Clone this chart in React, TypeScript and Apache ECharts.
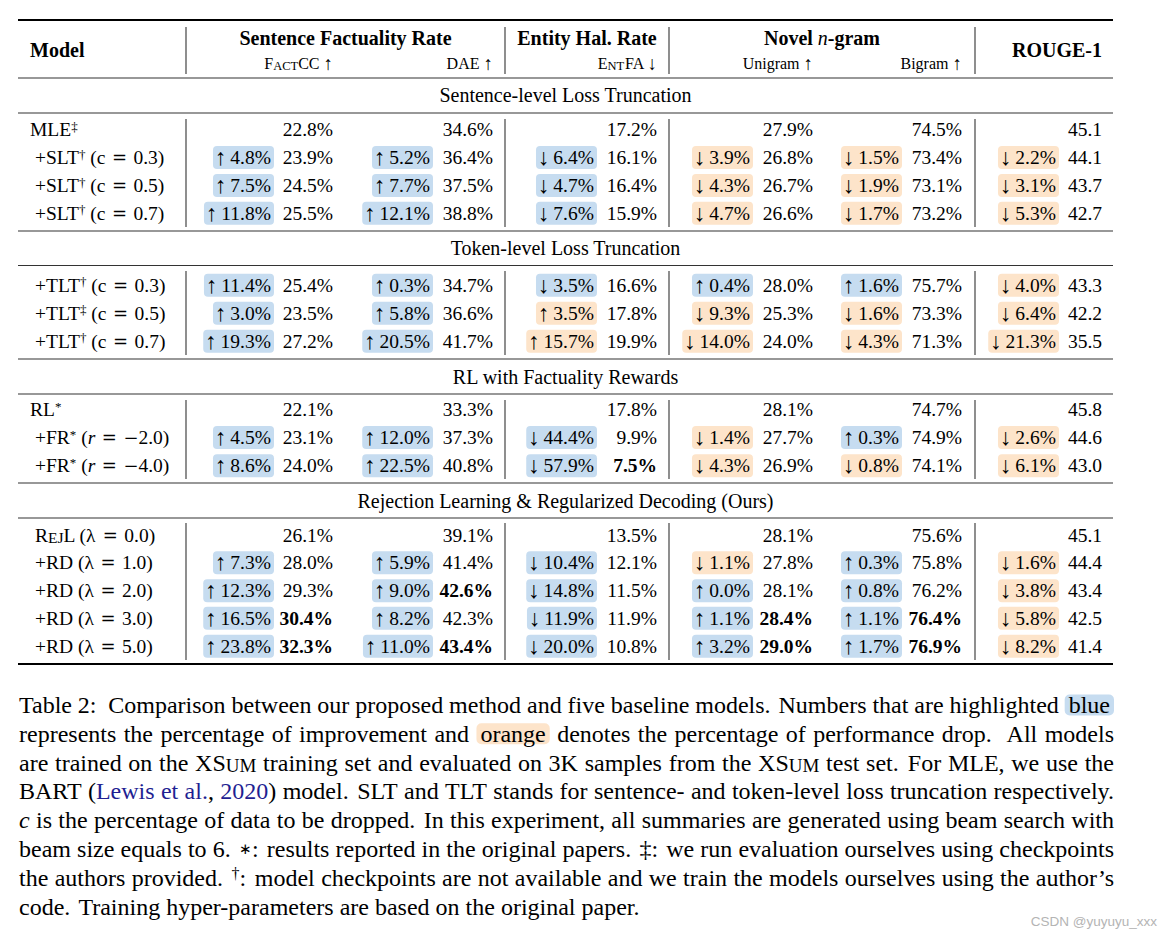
import React, { useEffect, useRef } from 'react';
import * as echarts from 'echarts';

const W = 1173;
const H = 939;
const FONT = '"Liberation Serif", "Times New Roman", Times, serif';
const MATH_FONT = '"DejaVu Serif", "Liberation Serif", serif';
const BLUE = '#c6dcf0';
const ORANGE = '#fde4ca';

// ---------------- data ----------------
const sectionTitles = [
  'Sentence-level Loss Truncation',
  'Token-level Loss Truncation',
  'RL with Factuality Rewards',
  'Rejection Learning & Regularized Decoding (Ours)',
];

const modelNames = ['MLE', '+SLT', '+SLT', '+SLT', '+TLT', '+TLT', '+TLT', 'RL', '+FR', '+FR', 'RejL', '+RD', '+RD', '+RD', '+RD'];
const modelMarks = ['‡', '†', '†', '†', '†', '‡', '†', '*', '*', '*', '', '', '', '', ''];
const modelParams = ['', 'c = 0.3', 'c = 0.5', 'c = 0.7', 'c = 0.3', 'c = 0.5', 'c = 0.7', '', 'r = −2.0', 'r = −4.0', 'λ = 0.0', 'λ = 1.0', 'λ = 2.0', 'λ = 3.0', 'λ = 5.0'];

const groupHeaders = ['Sentence Factuality Rate', 'Entity Hal. Rate', 'Novel {it|n}-gram'];
const metricHeaders = ['F{sc|ACT}CC {ar|↑}', 'DAE {ar|↑}', 'E{sc|NT}FA {ar|↓}', 'Unigram {ar|↑}', 'Bigram {ar|↑}'];
const lastHeader = 'ROUGE-1';
const higherIsBetter = [true, true, false, true, true, true];

const factccValue = [22.8, 23.9, 24.5, 25.5, 25.4, 23.5, 27.2, 22.1, 23.1, 24.0, 26.1, 28.0, 29.3, 30.4, 32.3];
const factccDelta = [null, 4.8, 7.5, 11.8, 11.4, 3.0, 19.3, null, 4.5, 8.6, null, 7.3, 12.3, 16.5, 23.8];
const daeValue = [34.6, 36.4, 37.5, 38.8, 34.7, 36.6, 41.7, 33.3, 37.3, 40.8, 39.1, 41.4, 42.6, 42.3, 43.4];
const daeDelta = [null, 5.2, 7.7, 12.1, 0.3, 5.8, 20.5, null, 12.0, 22.5, null, 5.9, 9.0, 8.2, 11.0];
const entfaValue = [17.2, 16.1, 16.4, 15.9, 16.6, 17.8, 19.9, 17.8, 9.9, 7.5, 13.5, 12.1, 11.5, 11.9, 10.8];
const entfaDelta = [null, -6.4, -4.7, -7.6, -3.5, 3.5, 15.7, null, -44.4, -57.9, null, -10.4, -14.8, -11.9, -20.0];
const unigramValue = [27.9, 26.8, 26.7, 26.6, 28.0, 25.3, 24.0, 28.1, 27.7, 26.9, 28.1, 27.8, 28.1, 28.4, 29.0];
const unigramDelta = [null, -3.9, -4.3, -4.7, 0.4, -9.3, -14.0, null, -1.4, -4.3, null, -1.1, 0.0, 1.1, 3.2];
const bigramValue = [74.5, 73.4, 73.1, 73.2, 75.7, 73.3, 71.3, 74.7, 74.9, 74.1, 75.6, 75.8, 76.2, 76.4, 76.9];
const bigramDelta = [null, -1.5, -1.9, -1.7, 1.6, -1.6, -4.3, null, 0.3, -0.8, null, 0.3, 0.8, 1.1, 1.7];
const rougeValue = [45.1, 44.1, 43.7, 42.7, 43.3, 42.2, 35.5, 45.8, 44.6, 43.0, 45.1, 44.4, 43.4, 42.5, 41.4];
const rougeDelta = [null, -2.2, -3.1, -5.3, -4.0, -6.4, -21.3, null, -2.6, -6.1, null, -1.6, -3.8, -5.8, -8.2];

// [metric, row] of bold (best) values
const bestCells = [[2, 9], [1, 12], [0, 13], [3, 13], [4, 13], [0, 14], [1, 14], [3, 14], [4, 14]];

const captionLines = [
  'Table 2:  Comparison between our proposed method and five baseline models. Numbers that are highlighted {hb|blue}',
  'represents the percentage of improvement and {ho|orange} denotes the percentage of performance drop.  All models',
  'are trained on the XS{sc|UM} training set and evaluated on 3K samples from the XS{sc|UM} test set. For MLE, we use the',
  'BART ({link|Lewis} {link|et} {link|al.}, {link|2020}) model. SLT and TLT stands for sentence- and token-level loss truncation respectively.',
  '{it|c} is the percentage of data to be dropped. In this experiment, all summaries are generated using beam search with',
  'beam size equals to 6. {ast|∗}: results reported in the original papers. ‡: we run evaluation ourselves using checkpoints',
  'the authors provided. {sup|†}: model checkpoints are not available and we train the models ourselves using the author’s',
  'code. Training hyper-parameters are based on the original paper.',
];
const watermark = 'CSDN @yuyuyu_xxx';

const metricValues = [factccValue, daeValue, entfaValue, unigramValue, bigramValue, rougeValue];
const metricDeltas = [factccDelta, daeDelta, entfaDelta, unigramDelta, bigramDelta, rougeDelta];

// ---------------- layout ----------------
const TABLE_L = 18;
const TABLE_R = 1113;
const ROW_Y = [129.7, 157.5, 185.5, 213.3, 285.3, 313.3, 341.3, 409.6, 437.5, 465.8, 535, 562.8, 590.8, 618.3, 646.2];
const SECTION_Y = [95, 248.3, 376.7, 500.7];
const VALUE_RIGHT = [333, 493, 657, 813, 962, 1102];
const DELTA_RIGHT = [274, 433, 597, 753, 902, 1059];
const MODEL_X = [30, 35, 35, 35, 35, 35, 35, 30, 35, 35, 35, 35, 35, 35, 35];
const VLINES_X = [186, 505, 669, 975];
const VSEGS = [[27, 74], [119, 227], [271, 355], [400, 479], [523, 660]];
const THIN_RULES = [78, 113, 231, 265.5, 359, 394, 483, 518];
const THICK_RULES = [20, 664];
const GROUP_CX = [345.5, 587, 822];
const CELL_FS = 19.5;
const CAP_FS = 24;
const CAP_L = 19;
const CAP_R = 1114;
const CAP_Y0 = 705;
const CAP_DY = 28.8;

const labelRich: any = {
  sup: { fontSize: 13, fontFamily: FONT, fill: '#000', verticalAlign: 'top' },
  sc: { fontSize: 15.5, fontFamily: FONT, fill: '#000', verticalAlign: 'bottom' },
  it: { fontSize: CELL_FS, fontFamily: FONT, fontStyle: 'italic', fill: '#000' },
  m: { fontSize: 18, fontFamily: MATH_FONT, fill: '#000' },
};

const deltaRich: any = {
  ar: { fontSize: 23, fontFamily: FONT, fill: '#000' },
};

const captionRich: any = {
  sc: { fontSize: 19, fontFamily: FONT, fill: '#000', verticalAlign: 'bottom' },
  link: { fontSize: CAP_FS, fontFamily: FONT, fill: '#1f1f92' },
  it: { fontSize: CAP_FS, fontFamily: FONT, fontStyle: 'italic', fill: '#000' },
  sup: { fontSize: 16, fontFamily: FONT, fill: '#000', verticalAlign: 'top' },
  ast: { fontSize: 15, fontFamily: FONT, fill: '#000' },
  hb: { fontSize: CAP_FS, fontFamily: FONT, fill: '#000', backgroundColor: BLUE, padding: [1, 4, 1, 4], borderRadius: 5, height: 19 },
  ho: { fontSize: CAP_FS, fontFamily: FONT, fill: '#000', backgroundColor: ORANGE, padding: [1, 4, 1, 4], borderRadius: 5, height: 19 },
};

function modelLabel(r: number): string {
  let t = modelNames[r] === 'RejL' ? 'R{sc|EJ}L' : modelNames[r];
  if (modelMarks[r]) t += `{sup|${modelMarks[r]}}`;
  const p = modelParams[r];
  if (p) {
    const first = p[0] === 'r' ? '{it|r}' : p[0];
    const rest = p.slice(1).replace(' = ', '\u2004{m|=}\u2004').replace('−', '{m|−}');
    t += ' (' + first + rest + ')';
  }
  return t;
}

let measureCtx: CanvasRenderingContext2D | null = null;
function measure(text: string, size: number, italic = false): number {
  if (!measureCtx) measureCtx = document.createElement('canvas').getContext('2d');
  const ctx = measureCtx!;
  ctx.font = `${italic ? 'italic ' : ''}${size}px ${FONT}`;
  return ctx.measureText(text).width;
}

function wordWidth(word: string): number {
  const re = /\{(\w+)\|([^}]*)\}/g;
  let last = 0;
  let w = 0;
  let m: RegExpExecArray | null;
  while ((m = re.exec(word))) {
    if (m.index > last) w += measure(word.slice(last, m.index), CAP_FS);
    const st = m[1];
    const tx = m[2];
    if (st === 'sc') w += measure(tx, 19);
    else if (st === 'sup') w += measure(tx, 16);
    else if (st === 'ast') w += measure(tx, 15);
    else if (st === 'it') w += measure(tx, CAP_FS, true);
    else if (st === 'hb' || st === 'ho') w += measure(tx, CAP_FS) + 8;
    else w += measure(tx, CAP_FS);
    last = re.lastIndex;
  }
  if (last < word.length) w += measure(word.slice(last), CAP_FS);
  return w;
}

function captionElements(): any[] {
  const out: any[] = [];
  const spaceW = measure(' ', CAP_FS);
  captionLines.forEach((line, i) => {
    const parts = line.split(' ');
    const words: string[] = [];
    const gaps: number[] = [];
    let pending = 0;
    parts.forEach((p) => {
      if (p === '') { pending += 1; return; }
      if (words.length > 0) {
        const prev = words[words.length - 1];
        let g = 1 + pending;
        if (pending === 0 && /[.:]$/.test(prev) && prev !== '{link|al.}') g = 1.35;
        gaps.push(g);
      }
      pending = 0;
      words.push(p);
    });
    const widths = words.map(wordWidth);
    const total = widths.reduce((a, b) => a + b, 0);
    const gw = gaps.reduce((a, b) => a + b, 0);
    const justify = i < captionLines.length - 1;
    const unit = justify ? (CAP_R - CAP_L - total) / gw : spaceW;
    let x = CAP_L;
    const y = CAP_Y0 + i * CAP_DY;
    words.forEach((w, k) => {
      out.push({
        type: 'text', x, y, silent: true,
        style: { text: w, rich: captionRich, fontSize: CAP_FS, fontFamily: FONT, fill: '#000', align: 'left', verticalAlign: 'middle' },
      });
      x += widths[k] + (k < gaps.length ? gaps[k] * unit : 0);
    });
  });
  return out;
}

function tableGraphics(): any[] {
  const g: any[] = [];
  THICK_RULES.forEach((y) => g.push({ type: 'line', silent: true, shape: { x1: TABLE_L, y1: y, x2: TABLE_R, y2: y }, style: { stroke: '#000', lineWidth: 2 } }));
  THIN_RULES.forEach((y) => g.push({ type: 'line', silent: true, shape: { x1: TABLE_L, y1: y, x2: TABLE_R, y2: y }, style: { stroke: '#333', lineWidth: 1.2 } }));
  VLINES_X.forEach((x) => VSEGS.forEach(([a, b]) => g.push({ type: 'line', silent: true, shape: { x1: x, y1: a, x2: x, y2: b }, style: { stroke: '#444', lineWidth: 1.2 } })));
  const base = { fontFamily: FONT, fill: '#000', verticalAlign: 'middle' };
  g.push({ type: 'text', x: 30, y: 50, silent: true, style: { ...base, text: 'Model', fontSize: 20, fontWeight: 'bold', align: 'left' } });
  g.push({ type: 'text', x: VALUE_RIGHT[5], y: 50, silent: true, style: { ...base, text: lastHeader, fontSize: 20, fontWeight: 'bold', align: 'right' } });
  groupHeaders.forEach((t, i) => g.push({
    type: 'text', x: GROUP_CX[i], y: 37.5, silent: true,
    style: { ...base, text: t, fontSize: 20, fontWeight: 'bold', align: 'center', rich: { it: { fontSize: 20, fontFamily: FONT, fontStyle: 'italic', fill: '#000' } } },
  }));
  metricHeaders.forEach((t, i) => g.push({
    type: 'text', x: VALUE_RIGHT[i], y: 63, silent: true,
    style: {
      ...base, text: t, fontSize: 16, align: 'right',
      rich: {
        sc: { fontSize: 12.5, fontFamily: FONT, fill: '#000', verticalAlign: 'bottom' },
        ar: { fontSize: 19, fontFamily: FONT, fill: '#000' },
      },
    },
  }));
  sectionTitles.forEach((t, i) => g.push({
    type: 'text', x: (TABLE_L + TABLE_R) / 2, y: SECTION_Y[i], silent: true,
    style: { ...base, text: t, fontSize: 20, align: 'center' },
  }));
  return g;
}

function buildOption(): any {
  const cells: number[][] = [];
  modelNames.forEach((_, r) => metricValues.forEach((__, m) => cells.push([m, r])));
  const isBest = (m: number, r: number) => bestCells.some(([a, b]) => a === m && b === r);

  return {
    animation: false,
    backgroundColor: '#fff',
    grid: { left: 0, right: 0, top: 0, bottom: 0 },
    xAxis: { type: 'value', min: 0, max: W, show: false },
    yAxis: { type: 'value', min: 0, max: H, inverse: true, show: false },
    graphic: { elements: [...tableGraphics(), ...captionElements(), {
      type: 'text', x: 1157, y: 921, silent: true,
      style: { text: watermark, fontSize: 13.5, fontFamily: '"Liberation Sans", Arial, sans-serif', fill: '#b4b4b4', align: 'right', verticalAlign: 'middle' },
    }] },
    series: [
      {
        type: 'custom',
        coordinateSystem: 'cartesian2d',
        silent: true,
        data: modelNames.map((_, r) => [0, r]),
        encode: { x: 0, y: 1 },
        renderItem: (_p: any, api: any) => {
          const r = api.value(1) as number;
          const [x, y] = api.coord([MODEL_X[r], ROW_Y[r]]);
          return {
            type: 'text', x, y,
            style: { text: modelLabel(r), rich: labelRich, fontSize: CELL_FS, fontFamily: FONT, fill: '#000', align: 'left', verticalAlign: 'middle' },
          };
        },
      },
      {
        type: 'custom',
        coordinateSystem: 'cartesian2d',
        silent: true,
        data: cells,
        encode: { x: 0, y: 1 },
        renderItem: (_p: any, api: any) => {
          const m = api.value(0) as number;
          const r = api.value(1) as number;
          const [vx, vy] = api.coord([VALUE_RIGHT[m], ROW_Y[r]]);
          const [dx] = api.coord([DELTA_RIGHT[m], ROW_Y[r]]);
          const children: any[] = [];
          const d = metricDeltas[m][r];
          if (d !== null && d !== undefined) {
            const good = (d >= 0) === higherIsBetter[m];
            children.push({
              type: 'text', x: dx, y: vy,
              style: {
                text: '{ar|' + (d >= 0 ? '↑' : '↓') + '}\u2009' + Math.abs(d).toFixed(1) + '%',
                rich: deltaRich,
                fontSize: CELL_FS, fontFamily: FONT, fill: '#000', align: 'right', verticalAlign: 'middle',
                backgroundColor: good ? BLUE : ORANGE, padding: [0, 3, 0, 2], borderRadius: 4,
              },
            });
          }
          const v = metricValues[m][r];
          children.push({
            type: 'text', x: vx, y: vy,
            style: {
              text: m === 5 ? v.toFixed(1) : v.toFixed(1) + '%',
              fontSize: CELL_FS, fontFamily: FONT, fontWeight: isBest(m, r) ? 'bold' : 'normal',
              fill: '#000', align: 'right', verticalAlign: 'middle',
            },
          });
          return { type: 'group', children };
        },
      },
    ],
  };
}

export default function App() {
  const ref = useRef<HTMLDivElement>(null);
  useEffect(() => {
    if (!ref.current) return;
    const chart = echarts.init(ref.current, undefined, { renderer: 'svg' });
    chart.setOption(buildOption());
    return () => chart.dispose();
  }, []);
  return <div ref={ref} style={{ position: 'fixed', left: 0, top: 0, width: W, height: H, background: '#fff' }} />;
}
